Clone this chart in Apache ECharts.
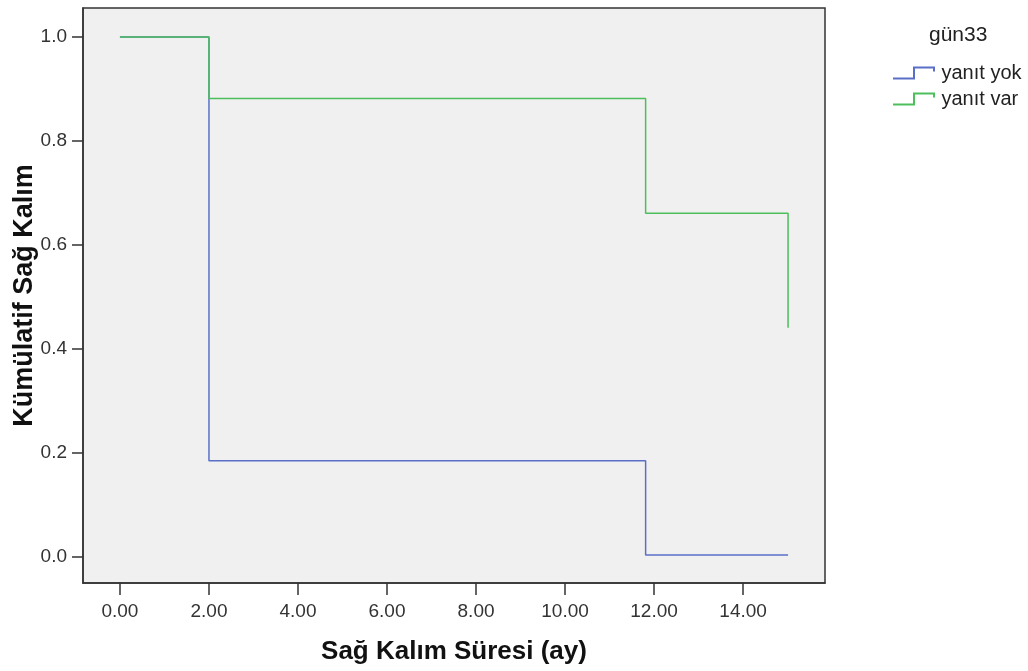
<!DOCTYPE html>
<html>
<head>
<meta charset="utf-8">
<title>Kaplan-Meier</title>
<script src="https://cdn.jsdelivr.net/npm/echarts@6/dist/echarts.min.js"></script>
<style>
  html, body { margin: 0; padding: 0; background: #fff; }
  #chart { width: 1028px; height: 671px; }
</style>
</head>
<body>
<div id="chart"></div>
<script>
// survival steps: [time, cumulative survival after the event]
const seriesNames = ['yanıt yok', 'yanıt var']
const yanitYok = [[0, 1], [2, 0.185], [11.81, 0.004], [15.01, 0.004]]
const yanitVar = [[0, 1], [2, 0.882], [11.81, 0.661], [15.01, 0.441]]
const xTicks = [0, 2, 4, 6, 8, 10, 12, 14]
const yTicks = [0, 0.2, 0.4, 0.6, 0.8, 1.0]

const font = 'Liberation Sans, Arial, sans-serif'
const stepIcon = 'path://M0,11 L20,11 L20,0 L42,0 L42,5 L40,5 L40,2 L22,2 L22,13 L0,13 Z'

const chart = echarts.init(document.getElementById('chart'))

chart.setOption({
  animation: false,
  title: {
    text: 'gün33',
    left: 924,
    top: 20,
    textStyle: { fontFamily: font, fontSize: 21, fontWeight: 'normal', color: '#222' }
  },
  legend: {
    data: seriesNames,
    orient: 'vertical',
    left: 888,
    top: 58,
    itemWidth: 45,
    itemHeight: 13,
    itemGap: 6,
    icon: stepIcon,
    textStyle: { fontFamily: font, fontSize: 20, color: '#222' }
  },
  grid: {
    left: 83,
    right: 203,
    top: 8,
    bottom: 88,
    outerBoundsMode: 'none',
    show: true,
    backgroundColor: '#f0f0f0',
    borderColor: '#333',
    borderWidth: 1.5
  },
  xAxis: {
    type: 'value',
    min: -0.83,
    max: 15.84,
    name: 'Sağ Kalım Süresi (ay)',
    nameLocation: 'middle',
    nameGap: 56,
    nameMoveOverlap: false,
    nameTextStyle: { fontFamily: font, fontSize: 26, fontWeight: 'bold', color: '#111' },
    axisLine: { onZero: false, lineStyle: { color: '#333', width: 1.5 } },
    axisTick: { show: true, length: 12, customValues: xTicks, lineStyle: { color: '#333', width: 1.5 } },
    axisLabel: {
      customValues: xTicks,
      margin: 19,
      fontFamily: font,
      fontSize: 19,
      color: '#333',
      formatter: v => v.toFixed(2)
    },
    splitLine: { show: false }
  },
  yAxis: {
    type: 'value',
    min: -0.05,
    max: 1.056,
    name: 'Kümülatif Sağ Kalım',
    nameLocation: 'middle',
    nameGap: 45,
    nameMoveOverlap: false,
    nameTextStyle: { fontFamily: font, fontSize: 27, fontWeight: 'bold', color: '#111' },
    axisLine: { show: true, onZero: false, lineStyle: { color: '#333', width: 1.5 } },
    axisTick: { show: true, length: 11, customValues: yTicks, lineStyle: { color: '#333', width: 1.5 } },
    axisLabel: {
      customValues: yTicks,
      margin: 16,
      fontFamily: font,
      fontSize: 19,
      color: '#333',
      formatter: v => v.toFixed(1)
    },
    splitLine: { show: false }
  },
  series: [
    {
      name: seriesNames[0],
      type: 'line',
      step: 'end',
      data: yanitYok,
      showSymbol: false,
      color: '#5b6fc6',
      lineStyle: { width: 1.5 }
    },
    {
      name: seriesNames[1],
      type: 'line',
      step: 'end',
      data: yanitVar,
      showSymbol: false,
      color: '#4cbf5c',
      lineStyle: { width: 1.5 }
    }
  ]
})

window.addEventListener('resize', () => chart.resize())
</script>
</body>
</html>
